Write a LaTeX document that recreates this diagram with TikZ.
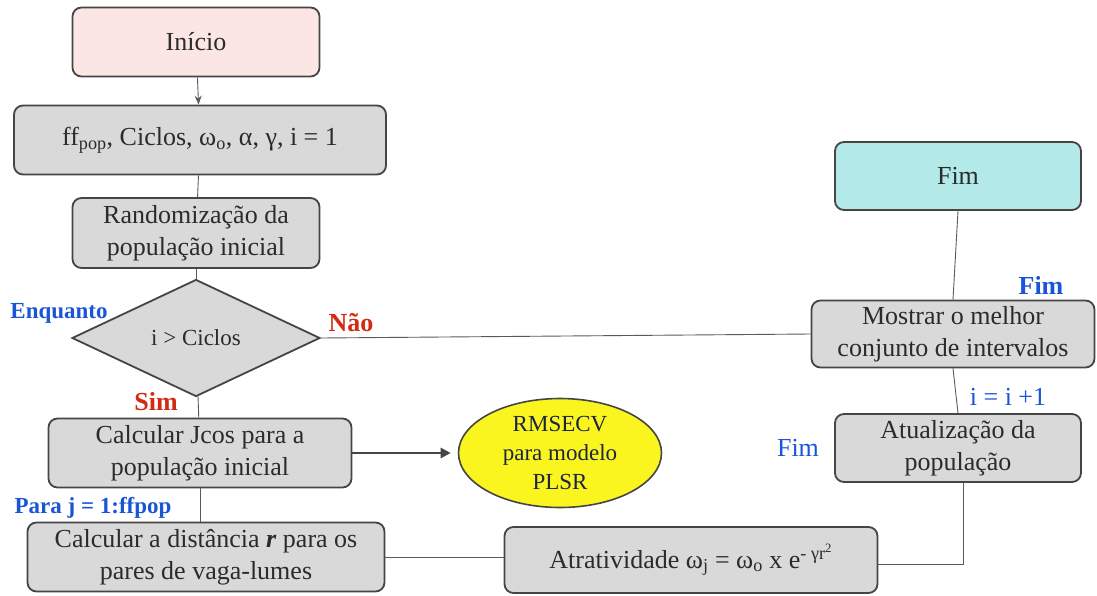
\documentclass[tikz,border=0pt]{standalone}
\usepackage{fontspec}
\setmainfont{Liberation Serif}
\usepackage{xcolor}
\usetikzlibrary{shapes,shapes.geometric,arrows,arrows.meta,positioning}

\definecolor{boxgray}{HTML}{D9D9D9}
\definecolor{edgegray}{HTML}{454545}
\definecolor{linegray}{HTML}{5A5A5A}
\definecolor{textgray}{HTML}{2B2B2B}
\definecolor{startpink}{HTML}{FCE6E3}
\definecolor{endcyan}{HTML}{B3E9E9}
\definecolor{labelblue}{HTML}{1A55D8}
\definecolor{labelred}{HTML}{D42A12}
\definecolor{ovalyellow}{HTML}{FAF51E}
\definecolor{ovaltext}{HTML}{1C2540}

\begin{document}
\begin{tikzpicture}[
    x=1pt, y=-1pt,
    box/.style={rectangle, draw=edgegray, line width=1.8pt, rounded corners=9pt, fill=boxgray,
        text=textgray, align=center, inner sep=0pt, font=\fontsize{26}{32}\selectfont},
    decision/.style={diamond, draw=edgegray, line width=1.8pt, fill=boxgray, text=textgray,
        minimum width=248pt, minimum height=117pt, inner sep=0pt, font=\fontsize{23}{27}\selectfont},
    oval/.style={ellipse, draw=edgegray, line width=1.6pt, fill=ovalyellow, text=ovaltext,
        minimum width=203pt, minimum height=109pt, inner sep=0pt, align=center,
        font=\fontsize{23}{29}\selectfont},
    link/.style={draw=linegray, line width=0.9pt},
    arrow/.style={-{Stealth[length=9pt,width=7pt]}, draw=linegray, line width=0.9pt},
    bigarrow/.style={-{Triangle[length=10pt,width=10pt]}, draw=edgegray, line width=2.8pt, shorten >=7pt},
    bluelabel/.style={text=labelblue, font=\fontsize{26}{30}\selectfont},
    bluebold/.style={text=labelblue, font=\fontsize{23}{27}\selectfont\bfseries},
    redbold/.style={text=labelred, font=\fontsize{26}{30}\selectfont\bfseries}
]
\useasboundingbox (0,0) rectangle (1097,595);

\node[box, fill=startpink, minimum width=247pt, minimum height=69pt] (inicio) at (196,42) {Início};
\node[box, minimum width=372pt, minimum height=69pt] (params) at (200,140)
    {ff\textsubscript{pop}, Ciclos, ω\textsubscript{o}, α, γ, i = 1};
\node[box, minimum width=247pt, minimum height=70pt] (random) at (196,233)
    {Randomização da\\população inicial};
\node[decision] (ciclos) at (196,338) {i > Ciclos};
\node[box, minimum width=303pt, minimum height=69pt] (jcos) at (200,453)
    {Calcular Jcos para a\\população inicial};
\node[oval] (rmsecv) at (560,453) {RMSECV\\para modelo\\PLSR};
\node[box, minimum width=357pt, minimum height=69pt] (distancia) at (206,557)
    {Calcular a distância \textbf{\textit{r}} para os\\pares de vaga-lumes};
\node[box, minimum width=373pt, minimum height=66pt] (atrat) at (691,560)
    {Atratividade ω\textsubscript{j} = ω\textsubscript{o} x e\textsuperscript{- γr\textsuperscript{2}}};
\node[box, minimum width=246pt, minimum height=68pt] (atual) at (958,448)
    {Atualização da\\população};
\node[box, minimum width=283pt, minimum height=67pt] (mostrar) at (953,334)
    {Mostrar o melhor\\conjunto de intervalos};
\node[box, fill=endcyan, minimum width=246pt, minimum height=68pt] (fim) at (958,176) {Fim};

\node[bluebold] (enquanto) at (59,313) {Enquanto};
\node[redbold] (nao) at (351,323) {Não};
\node[redbold] (sim) at (156,402) {Sim};
\node[bluebold] (paraj) at (93,508) {Para j = 1:ffpop};
\node[bluelabel] (fimloop) at (798,448) {Fim};
\node[bluelabel] (incr) at (1008,397) {i = i +1};
\node[bluebold, font=\fontsize{26}{30}\selectfont\bfseries] (fimwhile) at (1041,285) {Fim};

\draw[arrow] (inicio) -- (params);
\draw[link] (params) -- (random);
\draw[link] (random) -- (ciclos);
\draw[link] (ciclos) -- (jcos);
\draw[bigarrow] (jcos.east) -- (rmsecv.west);
\draw[link] (jcos.south) -- (jcos.south |- distancia.north);
\draw[link] (distancia.east) -- (distancia.east -| atrat.west);
\draw[link] ([yshift=-4pt]atrat.east) -| ([xshift=5pt]atual.south);
\draw[link] (atual.north) -- (mostrar.south);
\draw[link] (ciclos.east) -- (mostrar.west);
\draw[link] (mostrar.north) -- (fim.south);

\end{tikzpicture}
\end{document}
